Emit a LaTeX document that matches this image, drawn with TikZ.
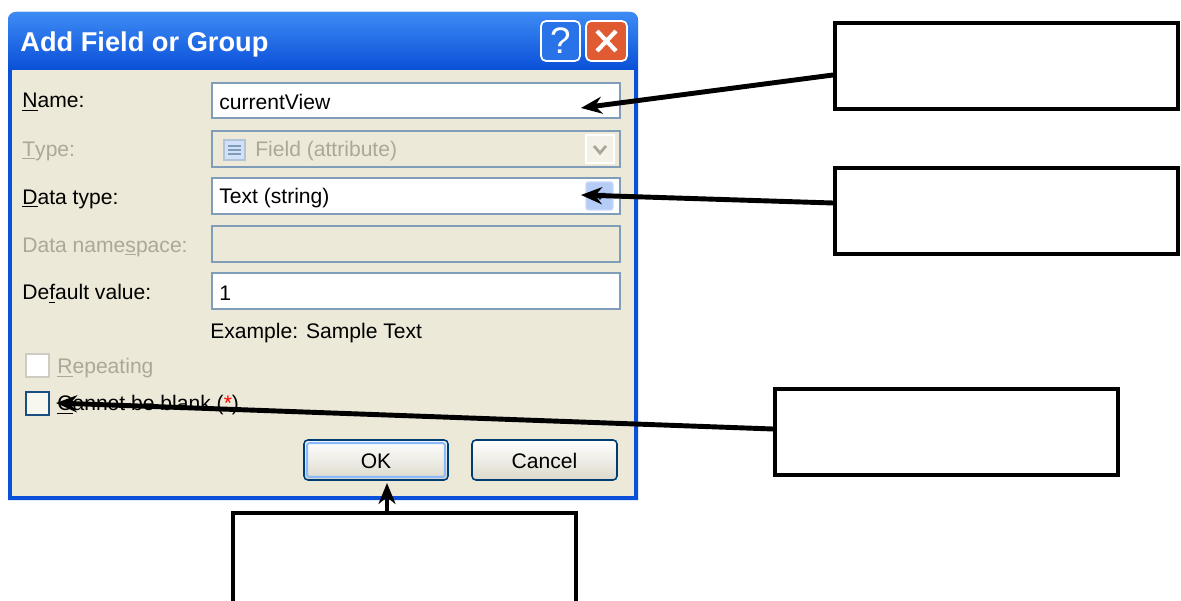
\documentclass[tikz,border=0pt]{standalone}
\usepackage{fontspec}
\setmainfont{Liberation Sans}
\usetikzlibrary{arrows.meta}
\definecolor{xpblue}{HTML}{0A50D8}
\definecolor{xplight}{HTML}{3D8BF5}
\definecolor{xpbody}{HTML}{ECE9D8}
\definecolor{xpedge}{HTML}{7F9DB9}
\definecolor{xpgray}{HTML}{ACA899}
\definecolor{xpred}{HTML}{E05A32}
\definecolor{xpbtn}{HTML}{003C74}
\definecolor{xpdrop}{HTML}{B4CCF6}
\tikzset{
  dlgtext/.style={anchor=west, inner sep=0pt, font=\fontsize{12}{14}\selectfont},
  offtext/.style={dlgtext, text=xpgray},
  entry/.style={draw=xpedge, fill=white, line width=1.1pt},
  offentry/.style={entry, fill=xpbody},
  xpbutton/.style={draw=xpbtn, rounded corners=0.08cm, line width=0.9pt, top color=white, bottom color=xpbody!85!gray},
  callout/.style={draw, line width=2.3pt, fill=white, minimum width=6.86cm, minimum height=1.72cm},
  pointer/.style={line width=2.8pt, -{Stealth[length=0.42cm, width=0.34cm]}}
}
\begin{document}
\begin{tikzpicture}[x=0.02cm, y=-0.02cm]
\useasboundingbox (0,0) rectangle (1181,601);
% window frame and title bar
\fill[xpblue] (8,500) [rounded corners=0.16cm] -- (8,12) -- (638,12) [sharp corners] -- (638,500) -- cycle;
\shade[top color=xplight, bottom color=xpblue] (8,70) [rounded corners=0.16cm] -- (8,12) -- (638,12) [sharp corners] -- (638,70) -- cycle;
\fill[xpbody] (12,70) rectangle (634,496);
\node[anchor=west, inner sep=0pt, text=white, font=\fontsize{15.5}{18}\selectfont\bfseries] (title) at (20,44) {Add Field or Group};
\filldraw[draw=white, fill=xplight!60!xpblue, rounded corners=0.1cm, line width=1pt] (541,21) rectangle (580,61);
\node[text=white, inner sep=0pt, font=\fontsize{21}{21}\selectfont] (help) at (560.5,41) {?};
\filldraw[draw=white, fill=xpred, rounded corners=0.1cm, line width=1pt] (586,21) rectangle (627,61);
\draw[white, line width=2.4pt] (597,31) -- (616,51) (616,31) -- (597,51);
% labels
\node[dlgtext] (lname) at (22,102) {\underline{N}ame:};
\node[offtext] (ltype) at (22,151) {\underline{T}ype:};
\node[dlgtext] (ldata) at (22,199) {\underline{D}ata type:};
\node[offtext] (lspace) at (22,247) {Data name\underline{s}pace:};
\node[dlgtext] (ldefault) at (22,294) {De\underline{f}ault value:};
% fields
\draw[entry] (212,83) rectangle (620,118);
\draw[offentry] (212,131) rectangle (620,167);
\draw[entry] (212,178) rectangle (620,214);
\draw[offentry] (212,226) rectangle (620,262);
\draw[entry] (212,273) rectangle (620,309);
\node[dlgtext] (vname) at (219,102) {currentView};
\filldraw[draw=xpedge!60, fill=xpdrop!60, line width=0.6pt] (224,140) rectangle (245,160);
\draw[xpedge, line width=0.6pt] (228,146) -- (241,146) (228,150) -- (241,150) (228,154) -- (241,154);
\node[offtext] (vtype) at (255,151) {Field (attribute)};
\filldraw[draw=white, fill=xpbody!60!white, line width=0.8pt] (586,135) rectangle (614,163);
\draw[xpgray, line width=1.6pt] (594,146) -- (600,153) -- (606,146);
\node[dlgtext] (vdata) at (219,198) {Text (string)};
\filldraw[draw=xpdrop!70!white, fill=xpdrop, rounded corners=0.05cm, line width=0.8pt] (586,182) rectangle (613,210);
\fill[xpbtn!70!black] (594,193) -- (606,193) -- (600,200) -- cycle;
\node[dlgtext] (vdefault) at (219,293) {1};
\node[dlgtext] (sample) at (210,333) {Example: Sample Text};
% check boxes
\filldraw[draw=xpgray!60, fill=white, line width=1pt] (26,354) rectangle (49,377);
\node[offtext] (repeat) at (57,368) {\underline{R}epeating};
\filldraw[draw=xpbtn!80!xpedge, fill=xpbody!40!white, line width=1pt] (26,392) rectangle (49,415);
\node[dlgtext] (blank) at (57,405) {\underline{C}annot be blank ({\color{red}*})};
% buttons
\draw[xpbutton] (304,440) rectangle (448,480);
\draw[xplight!60!white, line width=1.2pt, rounded corners=0.05cm] (307,443) rectangle (445,477);
\node[dlgtext, anchor=center] (ok) at (376,461) {OK};
\draw[xpbutton] (472,440) rectangle (617,480);
\node[dlgtext, anchor=center] (cancel) at (544.5,461) {Cancel};
% callouts
\node[callout] (c1) at (1006.5,66) {};
\node[callout] (c2) at (1006.5,211) {};
\node[callout] (c3) at (946.5,432) {};
\node[callout, minimum height=2.2cm] (c4) at (404.5,568) {};
\coordinate (pname) at (581,108);
\coordinate (pdata) at (581,195);
\coordinate (pblank) at (56,403);
\coordinate (pok) at (387,483);
\draw[pointer] ([yshift=-0.18cm]c1.west) -- (pname);
\draw[pointer] ([yshift=0.16cm]c2.west) -- (pdata);
\draw[pointer] ([yshift=0.06cm]c3.west) -- (pblank);
\draw[pointer] (c4.north -| pok) -- (pok);
\end{tikzpicture}
\end{document}
